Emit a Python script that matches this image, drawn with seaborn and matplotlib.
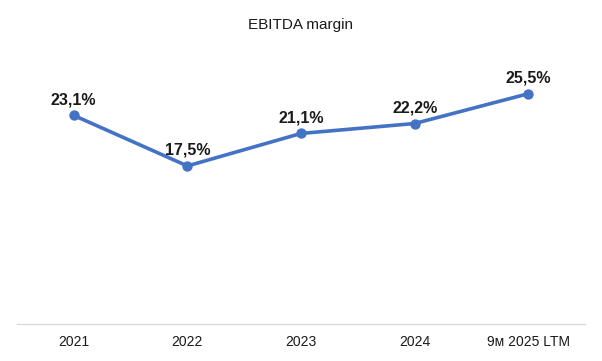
import pandas as pd
import seaborn as sns
import matplotlib.pyplot as plt

periods = ["2021", "2022", "2023", "2024", "9м 2025 LTM"]
margin = [23.1, 17.5, 21.1, 22.2, 25.5]
labels = ["23,1%", "17,5%", "21,1%", "22,2%", "25,5%"]

df = pd.DataFrame({"period": periods, "margin": margin})

sns.set_style("white")
plt.rcParams["font.family"] = ["Liberation Sans", "DejaVu Sans"]

fig = plt.figure(figsize=(6.02, 3.61), dpi=100)
ax = fig.add_axes([0.028, 0.1025, 0.944, 0.7505])

sns.pointplot(data=df, x="period", y="margin", ax=ax, color="#4472C4",
              markers="o", linewidth=2.6, markersize=5.5)

for i, (v, lab) in enumerate(zip(margin, labels)):
    ax.annotate(lab, (i, v), xytext=(0, 6), textcoords="offset points",
                ha="center", va="bottom", fontsize=11.5, fontweight="bold",
                color="#1a1a1a")

ax.set_ylim(0, 30)
ax.set_xlim(-0.5, 4.5)
ax.set_yticks([])
ax.set_xlabel("")
ax.set_ylabel("")
ax.tick_params(axis="x", length=0, labelsize=10, pad=8, colors="#1a1a1a")
for side in ["left", "right", "top"]:
    ax.spines[side].set_visible(False)
ax.spines["bottom"].set_color("#D9D9D9")
ax.spines["bottom"].set_linewidth(1)

fig.suptitle("EBITDA margin", x=0.5, y=0.95, fontsize=11, color="#1a1a1a")

fig.savefig("out.png", dpi=100)
